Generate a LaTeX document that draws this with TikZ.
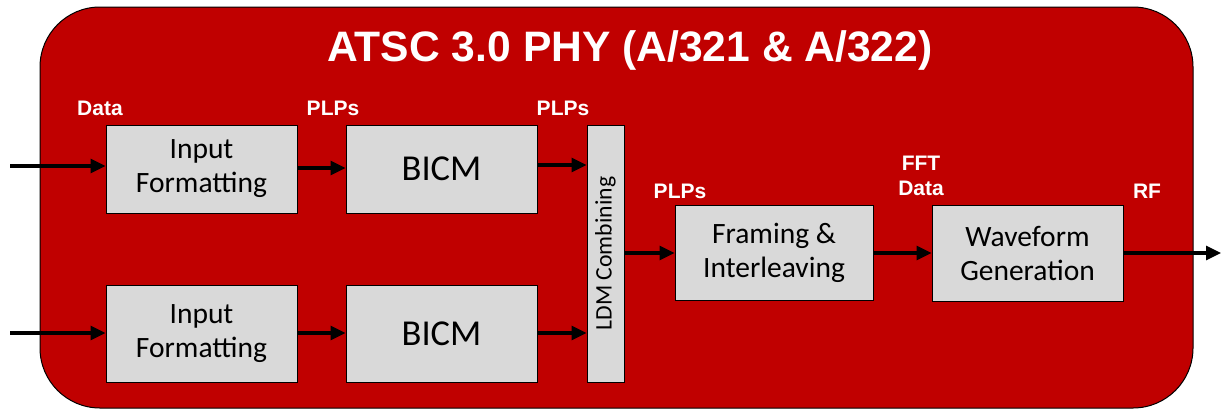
\documentclass[tikz,border=0pt]{standalone}
\usepackage{fontspec}
\setmainfont{Liberation Sans}
\newfontfamily\boxfont{Carlito}
\usetikzlibrary{arrows.meta}
\definecolor{atscred}{RGB}{192,0,0}
\definecolor{boxgray}{RGB}{217,217,217}
\tikzset{
  blk/.style={draw=black, line width=1pt, fill=boxgray, align=center, inner sep=0pt,
    font=\boxfont\fontsize{29.5}{34}\selectfont},
  lbl/.style={text=white, font=\bfseries\fontsize{21}{25}\selectfont, inner sep=0pt, align=center},
  flow/.style={line width=3.2pt, -{Triangle[length=15pt,width=14pt]}}
}
\begin{document}
\begin{tikzpicture}[x=1pt,y=-1pt]
\useasboundingbox (0,0) rectangle (1221,410);
\draw[fill=atscred, draw=black, line width=1pt, rounded corners=60pt] (40,7) rectangle (1193,408);
\node[text=white, font=\bfseries\fontsize{42.6}{46}\selectfont, inner sep=0pt] (title) at (630,50) {ATSC 3.0 PHY (A/321 \& A/322)};

\node[blk, minimum width=191pt, minimum height=88pt] (if1) at (201.5,169) {Input\\Formatting};
\node[blk, minimum width=191pt, minimum height=88pt, font=\boxfont\fontsize{36.5}{40}\selectfont] (bicm1) at (441.5,169) {BICM};
\node[blk, minimum width=191pt, minimum height=97pt] (if2) at (201.5,333.5) {Input\\Formatting};
\node[blk, minimum width=191pt, minimum height=97pt, font=\boxfont\fontsize{36.5}{40}\selectfont] (bicm2) at (441.5,333.5) {BICM};
\node[blk, minimum width=37pt, minimum height=257pt] (ldm) at (605.5,253.5) {};
\node[rotate=90, inner sep=0pt, font=\boxfont\fontsize{23.7}{26}\selectfont] (ldmtxt) at (ldm.center) {LDM Combining};
\node[blk, minimum width=198pt, minimum height=95pt] (frm) at (774,252.5) {Framing \&\\Interleaving};
\node[blk, minimum width=191pt, minimum height=96pt] (wav) at (1027.5,253) {Waveform\\Generation};

\coordinate (in1) at (10,166);
\coordinate (in2) at (10,333);
\coordinate (out) at (1221,253);

\draw[flow] (in1) -- (if1.west |- in1);
\draw[flow] (in2) -- (if2.west |- in2);
\draw[flow] (if1.east |- 0,168) -- (bicm1.west |- 0,168);
\draw[flow] (if2.east |- 0,333) -- (bicm2.west |- 0,333);
\draw[flow] (bicm1.east |- 0,165) -- (ldm.west |- 0,165);
\draw[flow] (bicm2.east |- 0,333) -- (ldm.west |- 0,333);
\draw[flow] (ldm.east |- 0,253) -- (frm.west |- 0,253);
\draw[flow] (frm.east |- 0,253) -- (wav.west |- 0,253);
\draw[flow] (wav.east |- 0,253) -- (out);

\node[lbl] (l1) at (100,108) {Data};
\node[lbl] (l2) at (333,108) {PLPs};
\node[lbl] (l3) at (563,108) {PLPs};
\node[lbl] (l4) at (680,191) {PLPs};
\node[lbl, align=center] (l5) at (921,176) {FFT\\Data};
\node[lbl] (l6) at (1147,191) {RF};
\end{tikzpicture}
\end{document}
